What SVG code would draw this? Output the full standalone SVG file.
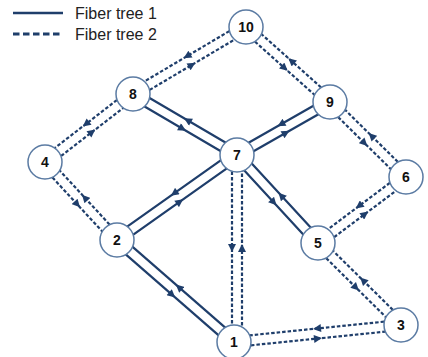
<svg xmlns="http://www.w3.org/2000/svg" width="428" height="357" viewBox="0 0 428 357">
<style>
.e{fill:none;stroke:#1f3e6b;stroke-width:2.2;marker-mid:url(#ah)}
.d{stroke-dasharray:3.5 2}
.n circle{fill:#fff;stroke:#5b7ba3;stroke-width:1.5}
.n text{font-family:"Liberation Sans",Arial,sans-serif;font-weight:bold;font-size:14px;fill:#111;text-anchor:middle;dominant-baseline:central}
.lg{font-family:"Liberation Sans",Arial,sans-serif;font-size:16px;fill:#222}
</style>
<defs>
<marker id="ah" markerUnits="userSpaceOnUse" markerWidth="9" markerHeight="8" viewBox="0 0 10 10" refX="5" refY="5" orient="auto">
<path d="M0,0 L10,5 L0,10 z" fill="#1f3e6b" stroke="none"/>
</marker>
</defs>
<g id="legend">
<line x1="13" y1="13" x2="63" y2="13" stroke="#1f3e6b" stroke-width="2.6"/>
<text class="lg" x="75" y="19">Fiber tree 1</text>
<line x1="13" y1="34" x2="63" y2="34" stroke="#1f3e6b" stroke-width="2.8" stroke-dasharray="6.5 3.5"/>
<text class="lg" x="75" y="40">Fiber tree 2</text>
</g>
<g id="connectors">
<path class="e" d="M239.5,150.7 L187.5,120.2 L135.5,89.7"/>
<path class="e" d="M130.5,98.3 L182.5,128.8 L234.5,159.3"/>
<path class="e" d="M234.1,150.9 L174.1,193.4 L114.1,235.9"/>
<path class="e" d="M119.9,244.1 L179.9,201.6 L239.9,159.1"/>
<path class="e" d="M327.5,97.7 L281,124.2 L234.5,150.7"/>
<path class="e" d="M239.5,159.3 L286,132.8 L332.5,106.3"/>
<path class="e" d="M233.3,158.4 L273.8,202.4 L314.3,246.4"/>
<path class="e" d="M321.7,239.6 L281.2,195.6 L240.7,151.6"/>
<path class="e" d="M113.7,243.8 L172.2,294.8 L230.7,345.8"/>
<path class="e" d="M237.3,338.2 L178.8,287.2 L120.3,236.2"/>
<path class="e d" d="M243.5,22.7 L187,56.2 L130.5,89.7"/>
<path class="e d" d="M135.5,98.3 L192,64.8 L248.5,31.3"/>
<path class="e d" d="M242.7,30.7 L284.7,68.2 L326.7,105.7"/>
<path class="e d" d="M333.3,98.3 L291.3,60.8 L249.3,23.3"/>
<path class="e d" d="M129.9,90 L85.9,124 L41.9,158"/>
<path class="e d" d="M48.1,166 L92.1,132 L136.1,98"/>
<path class="e d" d="M41.3,165.4 L77.3,204.4 L113.3,243.4"/>
<path class="e d" d="M120.7,236.6 L84.7,197.6 L48.7,158.6"/>
<path class="e d" d="M326.5,105.6 L364.5,143.1 L402.5,180.6"/>
<path class="e d" d="M409.5,173.4 L371.5,135.9 L333.5,98.4"/>
<path class="e d" d="M403,173 L359,206 L315,239"/>
<path class="e d" d="M321,247 L365,214 L409,181"/>
<path class="e d" d="M232,155 L232,248 L232,342"/>
<path class="e d" d="M242,342 L242,248 L242,155"/>
<path class="e d" d="M314.5,246.6 L356,287.6 L397.5,328.6"/>
<path class="e d" d="M404.5,321.4 L363,280.4 L321.5,239.4"/>
<path class="e d" d="M400.5,320 L317,328.5 L233.5,337"/>
<path class="e d" d="M234.5,347 L318,338.5 L401.5,330"/>
</g>
<g id="node1" class="n"><circle cx="234" cy="342" r="17"/><text x="234" y="342">1</text></g>
<g id="node2" class="n"><circle cx="117" cy="240" r="17"/><text x="117" y="240">2</text></g>
<g id="node3" class="n"><circle cx="401" cy="325" r="17"/><text x="401" y="325">3</text></g>
<g id="node4" class="n"><circle cx="45" cy="162" r="17"/><text x="45" y="162">4</text></g>
<g id="node5" class="n"><circle cx="318" cy="243" r="17"/><text x="318" y="243">5</text></g>
<g id="node6" class="n"><circle cx="406" cy="177" r="17"/><text x="406" y="177">6</text></g>
<g id="node7" class="n"><circle cx="237" cy="155" r="17"/><text x="237" y="155">7</text></g>
<g id="node8" class="n"><circle cx="133" cy="94" r="17"/><text x="133" y="94">8</text></g>
<g id="node9" class="n"><circle cx="330" cy="102" r="17"/><text x="330" y="102">9</text></g>
<g id="node10" class="n"><circle cx="246" cy="27" r="17"/><text x="246" y="27">10</text></g>
</svg>
